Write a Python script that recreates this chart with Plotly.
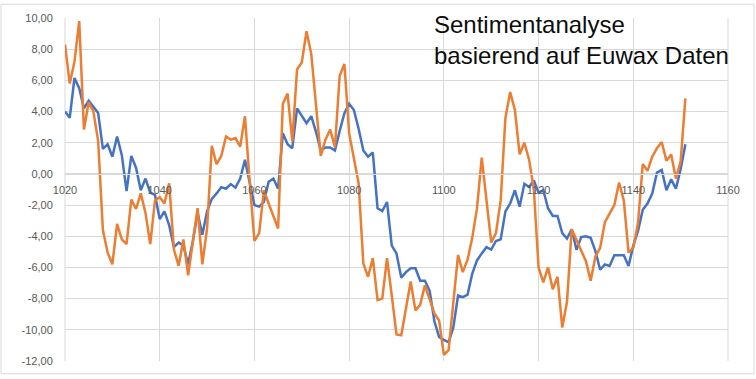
import plotly.graph_objects as go

x_start = 1020
blue_values = [
    4.0, 3.6, 6.15, 5.5, 4.2, 4.7, 4.3, 3.9, 1.6, 1.9,
    1.1, 2.4, 1.2, -1.1, 1.15, 0.4, -1.05, -0.3, -1.2, -1.35,
    -2.9, -2.4, -3.3, -4.7, -4.4, -4.6, -5.8, -4.3, -2.5, -3.9,
    -2.4, -1.6, -1.25, -0.85, -0.95, -0.65, -0.88, -0.3, 0.9, -0.6,
    -2.0, -2.1, -1.8, -0.5, -0.3, -0.95, 2.6, 1.9, 1.65, 4.2,
    3.7, 3.25, 3.7, 2.7, 1.5, 1.7, 1.7, 1.5, 2.75, 3.9,
    4.5, 4.1, 2.9, 1.5, 1.1, 1.37, -2.2, -2.38, -1.8, -4.6,
    -5.1, -6.65, -6.3, -6.05, -6.05, -6.85, -6.85, -7.5, -9.45, -10.45,
    -10.65, -10.8, -9.85, -7.8, -7.9, -7.75, -6.4, -5.55, -5.1, -4.7,
    -4.85, -4.3, -4.2, -2.4, -1.9, -1.05, -2.1, -0.63, -0.84, -0.42,
    -1.2, -1.05, -2.2, -2.7, -2.7, -3.8, -4.15, -3.55, -4.87, -4.05,
    -4.0, -4.1, -4.95, -6.15, -5.8, -5.9, -5.22, -5.22, -5.22, -5.9,
    -4.6, -3.65, -2.3, -1.9, -1.26, 0.08, 0.25, -1.05, -0.35, -0.95,
    0.3, 1.9,
]
orange_values = [
    8.3, 5.8, 7.2, 9.8, 2.85, 4.6, 4.0, 2.1, -3.6, -5.05,
    -5.8, -3.2, -4.2, -4.5, -1.65, -2.25, -1.25, -2.5, -4.5, -1.7,
    -1.5, -1.9, -0.6, -4.85, -5.9, -4.2, -6.5, -4.4, -2.2, -5.8,
    -3.5, 1.8, 0.63, 1.15, 2.4, 2.2, 2.3, 1.75, 3.7, -0.5,
    -4.3, -3.8, -1.05, -1.9, -2.7, -3.5, 4.5, 5.15, 2.1, 6.7,
    7.15, 9.15, 7.7, 4.6, 1.15, 2.2, 2.85, 1.7, 6.3, 7.05,
    2.6, 1.0, -0.6, -5.75, -6.6, -5.4, -8.1, -8.0, -5.4, -7.8,
    -10.3, -10.35, -8.6, -6.9, -8.75, -8.4, -7.15, -8.0, -8.95, -9.4,
    -11.6, -11.3, -8.2, -5.2, -6.3, -5.5, -4.1, -2.2, 1.05, -1.8,
    -4.4, -3.8, -1.7, 3.6, 5.25, 4.1, 1.26, 2.0, 0.9, -1.0,
    -6.0, -6.95, -6.0, -7.4, -6.6, -9.85, -8.2, -3.55, -4.2, -4.85,
    -5.6, -6.85, -5.3, -4.75, -3.1, -2.55, -2.0, -0.55, -1.7, -5.05,
    -4.75, -3.15, 0.63, 0.2, 1.1, 1.65, 2.05, 0.85, 1.24, -0.3,
    0.8, 4.85,
]
x_values = [x_start + i for i in range(len(blue_values))]

x_tick_values = [1020, 1040, 1060, 1080, 1100, 1120, 1140, 1160]
x_tick_labels = ["1020", "1040", "1060", "1080", "1100", "1120", "1140", "1160"]
y_tick_values = [-12, -10, -8, -6, -4, -2, 0, 2, 4, 6, 8, 10]
y_tick_labels = ["-12,00", "-10,00", "-8,00", "-6,00", "-4,00", "-2,00",
                 "0,00", "2,00", "4,00", "6,00", "8,00", "10,00"]
title_text = "Sentimentanalyse<br>basierend auf Euwax Daten"

grid = "#d9d9d9"
label_color = "#595959"
font_family = "Liberation Sans, Arial, sans-serif"

fig = go.Figure()
fig.add_trace(go.Scatter(x=x_values, y=blue_values, mode="lines",
                         line=dict(color="#4472C4", width=2.5), showlegend=False,
                         hoverinfo="skip"))
fig.add_trace(go.Scatter(x=x_values, y=orange_values, mode="lines",
                         line=dict(color="#ED7D31", width=2.5), showlegend=False,
                         hoverinfo="skip"))

fig.update_layout(
    width=756, height=379,
    margin=dict(l=65, r=28, t=15, b=15),
    paper_bgcolor="white", plot_bgcolor="white",
    font=dict(family=font_family, size=11, color=label_color),
    xaxis=dict(
        range=[1020, 1160], tickvals=x_tick_values, ticktext=x_tick_labels,
        showgrid=True, gridcolor=grid, gridwidth=1,
        zeroline=False, showline=True, linecolor=grid, linewidth=1,
        anchor="free", position=12 / 22, ticks="", ticklabelstandoff=6,
        tickfont=dict(family=font_family, size=11, color=label_color),
    ),
    yaxis=dict(
        range=[-12, 10], tickvals=y_tick_values, ticktext=y_tick_labels,
        showgrid=True, gridcolor=grid, gridwidth=1,
        zeroline=False, showline=False,
        anchor="free", position=0,
        ticks="outside", ticklen=10, tickcolor="rgba(0,0,0,0)",
        tickfont=dict(family=font_family, size=11, color=label_color),
    ),
    annotations=[dict(
        text=title_text, xref="paper", yref="paper",
        x=(432 - 65) / 663, y=(364 - 6) / 349, xanchor="left", yanchor="top",
        align="left", showarrow=False,
        font=dict(family=font_family, size=24, color="#0d0d0d"),
    )],
    shapes=[
        dict(type="rect", xref="paper", yref="paper",
             x0=(1 - 65) / 663, x1=(754 - 65) / 663,
             y0=(364 - 377) / 349, y1=(364 - 1) / 349,
             line=dict(color="#d9d9d9", width=1), fillcolor="rgba(0,0,0,0)",
             layer="below"),
        dict(type="line", xref="paper", yref="paper", x0=0, x1=0, y0=0, y1=1,
             line=dict(color=grid, width=1), layer="below"),
        dict(type="line", xref="paper", yref="paper", x0=1, x1=1, y0=0, y1=1,
             line=dict(color=grid, width=1), layer="below"),
    ],
)

fig.write_html("out.html", config={"displayModeBar": False},
               post_script="document.body.style.margin='0';document.body.style.padding='0';")
